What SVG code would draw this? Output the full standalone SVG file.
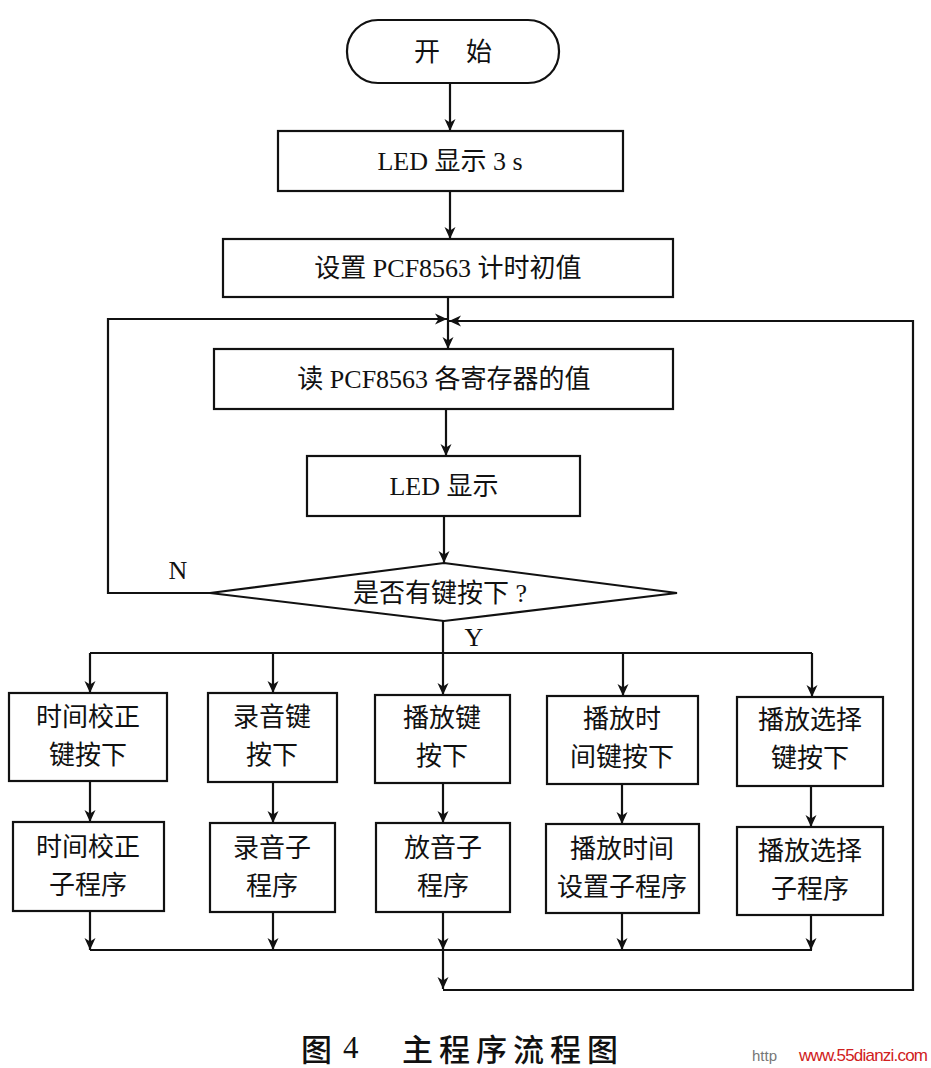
<svg xmlns="http://www.w3.org/2000/svg" width="931" height="1068" viewBox="0 0 931 1068">
<style>
.n{fill:#fff;stroke:#111;stroke-width:2.2}
.c{fill:none;stroke:#111;stroke-width:2.2}
.t{font-family:"Liberation Serif","Noto Sans CJK SC",serif;font-size:26px;fill:#111;text-anchor:middle;dominant-baseline:central}
.cap{font-family:"Noto Sans CJK SC",sans-serif;font-size:31px;font-weight:500;fill:#111;dominant-baseline:central}
.num{font-family:"Liberation Serif",serif;font-size:31px;font-weight:normal;fill:#111;dominant-baseline:central}
</style>
<defs>
<marker id="a" viewBox="0 0 12 12" refX="12" refY="6" markerWidth="12" markerHeight="12" markerUnits="userSpaceOnUse" orient="auto">
<path d="M0,0.5 L12,6 L0,11.5 L3.5,6 z" fill="#111"/>
</marker>
</defs>
<rect width="931" height="1068" fill="#fff"/>
<g id="connectors">
<path class="c" d="M450,83 V131" marker-end="url(#a)"/>
<path class="c" d="M450,191 V239" marker-end="url(#a)"/>
<path class="c" d="M448,297 V349" marker-end="url(#a)"/>
<path class="c" d="M446,409 V456" marker-end="url(#a)"/>
<path class="c" d="M444,516 V563" marker-end="url(#a)"/>
<path class="c" d="M210,593 H108 V319 H447" marker-end="url(#a)"/>
<path class="c" d="M443,990 H913 V321 H449" marker-end="url(#a)"/>
<path class="c" d="M90,653 H812"/>
<path class="c" d="M443,621 V695" marker-end="url(#a)"/>
<path class="c" d="M90,653 V693" marker-end="url(#a)"/>
<path class="c" d="M273,653 V693" marker-end="url(#a)"/>
<path class="c" d="M623,653 V696" marker-end="url(#a)"/>
<path class="c" d="M812,653 V697" marker-end="url(#a)"/>
<path class="c" d="M90,781 V822" marker-end="url(#a)"/>
<path class="c" d="M273,782 V823" marker-end="url(#a)"/>
<path class="c" d="M443,783 V823" marker-end="url(#a)"/>
<path class="c" d="M622,784 V824" marker-end="url(#a)"/>
<path class="c" d="M811,786 V827" marker-end="url(#a)"/>
<path class="c" d="M90,950 H812"/>
<path class="c" d="M90,911 V950" marker-end="url(#a)"/>
<path class="c" d="M273,912 V950" marker-end="url(#a)"/>
<path class="c" d="M443,912 V950" marker-end="url(#a)"/>
<path class="c" d="M622,913 V950" marker-end="url(#a)"/>
<path class="c" d="M811,915 V950" marker-end="url(#a)"/>
<path class="c" d="M443,950 V989" marker-end="url(#a)"/>
</g>
<g id="start"><rect class="n" x="347" y="20" width="212" height="63" rx="31"/><text class="t" x="453" y="52">开　始</text></g>
<g id="led3s"><rect class="n" x="278" y="131" width="345" height="60"/><text class="t" x="450" y="161">LED 显示 3 s</text></g>
<g id="setinit"><rect class="n" x="223" y="239" width="450" height="58"/><text class="t" x="448" y="268">设置 PCF8563 计时初值</text></g>
<g id="readreg"><rect class="n" x="214" y="349" width="459" height="60"/><text class="t" x="444" y="379">读 PCF8563 各寄存器的值</text></g>
<g id="led"><rect class="n" x="307" y="456" width="273" height="60"/><text class="t" x="444" y="486">LED 显示</text></g>
<g id="decision"><polygon class="n" points="444,563 677,593 444,621 210,593"/><text class="t" x="440" y="593">是否有键按下 ?</text></g>
<g id="labels"><text class="t" x="178" y="570">N</text><text class="t" x="474" y="637">Y</text></g>
<g id="k1"><rect class="n" x="9" y="693" width="158" height="88"/><text class="t" x="88" y="717">时间校正</text><text class="t" x="88" y="755">键按下</text></g>
<g id="k2"><rect class="n" x="208" y="693" width="129" height="89"/><text class="t" x="272" y="717">录音键</text><text class="t" x="272" y="755">按下</text></g>
<g id="k3"><rect class="n" x="375" y="695" width="135" height="88"/><text class="t" x="442" y="718">播放键</text><text class="t" x="442" y="756">按下</text></g>
<g id="k4"><rect class="n" x="547" y="696" width="151" height="88"/><text class="t" x="622" y="719">播放时</text><text class="t" x="622" y="757">间键按下</text></g>
<g id="k5"><rect class="n" x="737" y="697" width="146" height="89"/><text class="t" x="810" y="720">播放选择</text><text class="t" x="810" y="758">键按下</text></g>
<g id="s1"><rect class="n" x="13" y="822" width="151" height="89"/><text class="t" x="88" y="847">时间校正</text><text class="t" x="88" y="885">子程序</text></g>
<g id="s2"><rect class="n" x="210" y="823" width="125" height="89"/><text class="t" x="272" y="848">录音子</text><text class="t" x="272" y="886">程序</text></g>
<g id="s3"><rect class="n" x="376" y="823" width="134" height="89"/><text class="t" x="443" y="848">放音子</text><text class="t" x="443" y="886">程序</text></g>
<g id="s4"><rect class="n" x="546" y="824" width="153" height="89"/><text class="t" x="622" y="849">播放时间</text><text class="t" x="622" y="887">设置子程序</text></g>
<g id="s5"><rect class="n" x="737" y="827" width="146" height="88"/><text class="t" x="810" y="851">播放选择</text><text class="t" x="810" y="889">子程序</text></g>
<g id="caption"><text class="cap" x="301" y="1047">图</text><text class="num" x="343" y="1047">4</text><text class="cap" x="402" y="1047" letter-spacing="6">主程序流程图</text></g>
<g id="watermark"><text x="752" y="1061" font-family="'Liberation Sans',sans-serif" font-size="15" fill="#777">http</text><text x="799" y="1061" font-family="'Liberation Sans',sans-serif" font-size="17" fill="#d02020" textLength="129">www.55dianzi.com</text></g>
</svg>
